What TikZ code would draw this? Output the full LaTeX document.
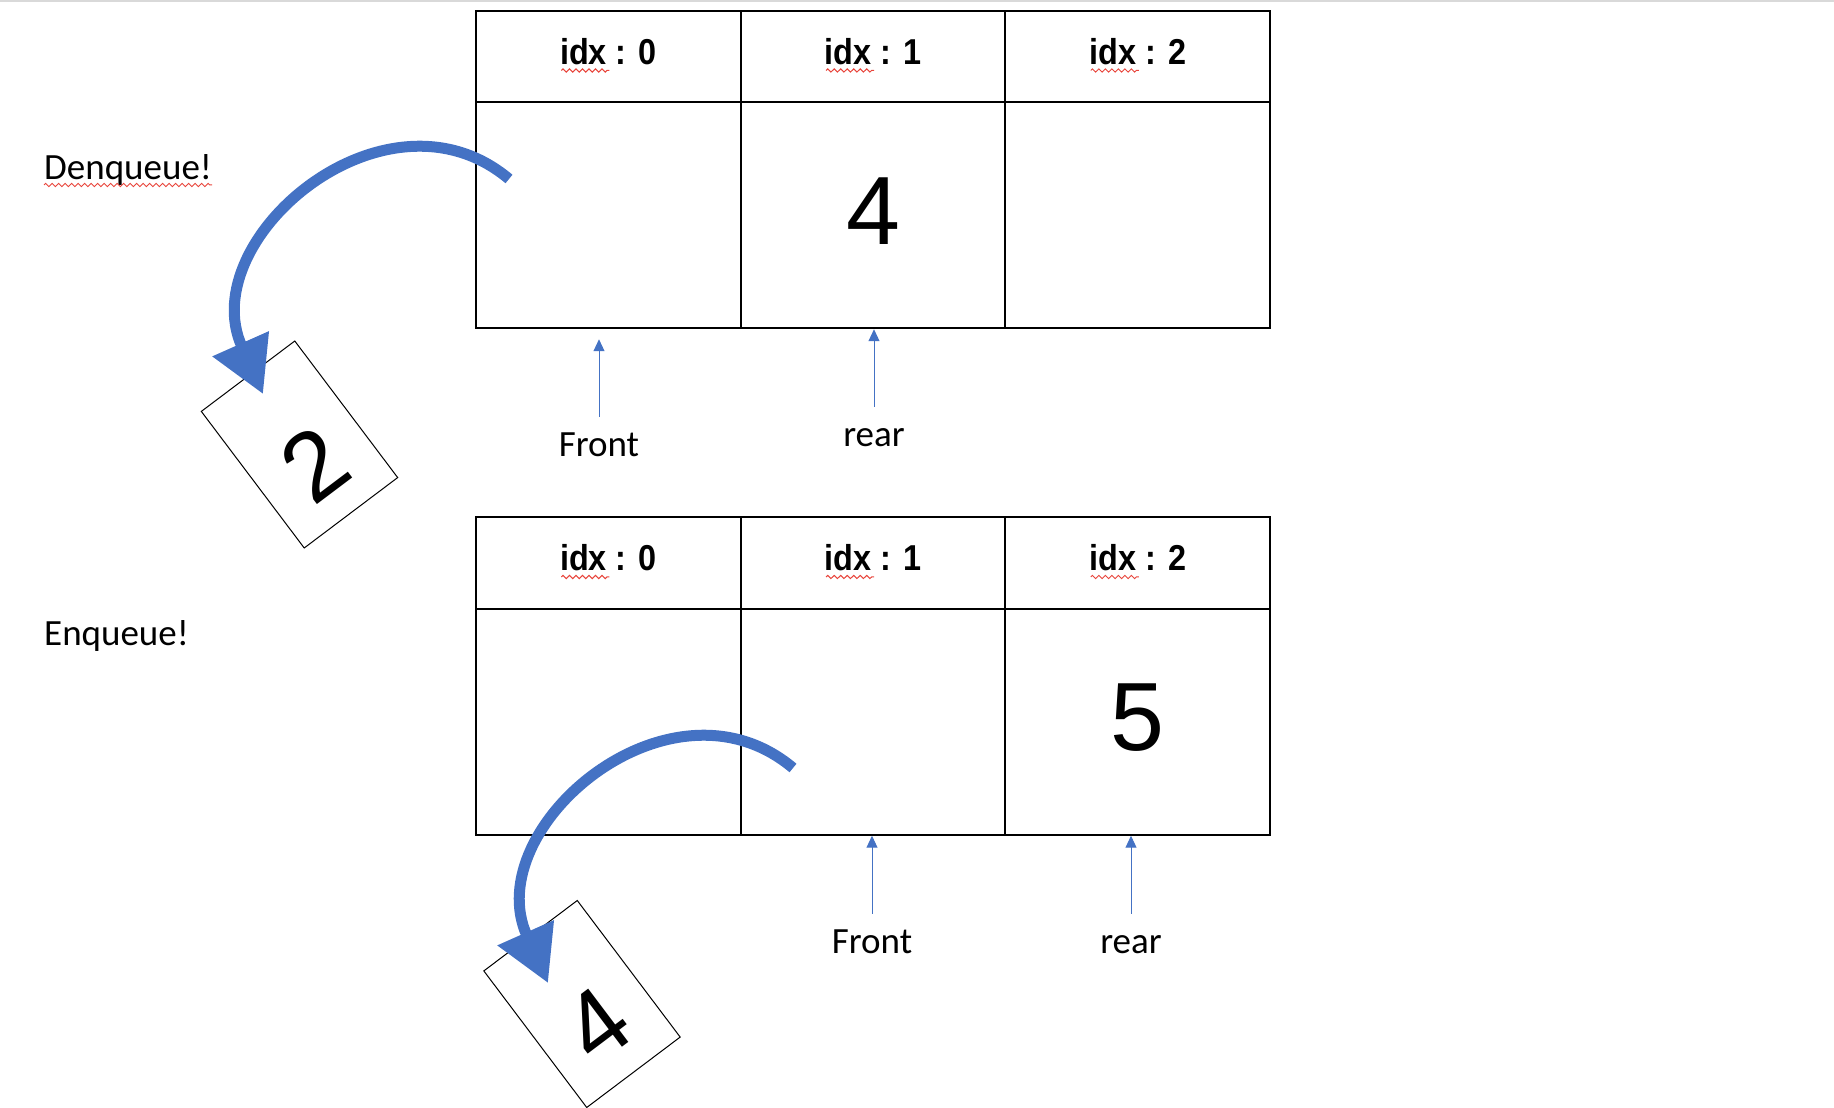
\documentclass[tikz,border=0pt]{standalone}
\usepackage{xcolor}
\usepackage{fontspec}
\setmainfont{Liberation Sans}
\newfontfamily\notefont{Carlito}
\newfontfamily\hdrfont[FakeStretch=0.9]{Liberation Sans}
\usepackage{tikz}
\usetikzlibrary{arrows.meta, positioning, decorations.pathmorphing}
\definecolor{officeblue}{HTML}{4472C4}
\definecolor{spellred}{HTML}{E8453C}

\begin{document}
\begin{tikzpicture}[x=1pt, y=1pt,
  hdr/.style={rectangle, draw, line width=2pt, outer sep=0pt, inner sep=0pt, minimum width=264.7pt, minimum height=91.5pt, text height=26pt, text depth=10pt, font=\hdrfont\bfseries\fontsize{36}{40}\selectfont},
  cell/.style={rectangle, draw, line width=2pt, outer sep=0pt, inner sep=0pt, minimum width=264.7pt, minimum height=226pt, text height=70pt, text depth=12pt, font=\fontsize{97}{100}\selectfont},
  card/.style={rectangle, draw, fill=white, line width=1pt, minimum width=117pt, minimum height=171pt, inner sep=0pt, rotate=37, text height=118pt, text depth=0pt, font=\fontsize{97}{100}\selectfont},
  note/.style={inner sep=0pt, anchor=base west, font=\notefont\fontsize{37}{40}\selectfont},
  lbl/.style={inner sep=0pt, anchor=base, text height=25pt, font=\notefont\fontsize{37}{40}\selectfont},
  ptr/.style={draw=officeblue, line width=1pt, -{Triangle[length=12pt, width=11pt]}, shorten <=15pt},
  bigarrow/.style={draw=officeblue, line width=11pt, -{Triangle[length=55pt, width=59pt]}},
  spell/.style={draw=spellred, line width=1pt, decorate, decoration={zigzag, amplitude=1.6pt, segment length=6.5pt}}
]
  \useasboundingbox (0,0) rectangle (1834,1108);
  \fill[black!15] (0,1106) rectangle (1834,1108);

  % dequeue
  \node[note] (deq) at (44,928) {Denqueue!};
  \node[hdr] (h00) at (608.35,1051.5) {idx : 0};
  \node[hdr, right=0pt of h00] (h01) {idx : 1};
  \node[hdr, right=0pt of h01] (h02) {idx : 2};
  \node[cell, below=0pt of h00] (v00) {};
  \node[cell, below=0pt of h01] (v01) {4};
  \node[cell, below=0pt of h02] (v02) {};
  \node[lbl] (front1) at (599,651) {Front};
  \node[lbl] (rear1) at (874,661) {rear};
  \node[card] (card2) at (299.5,663.5) {2};

  \draw[ptr, shorten >=11pt] (front1.north) -- (front1 |- v00.south);
  \draw[ptr, shorten >=1pt] (rear1.north) -- (rear1 |- v01.south);

  \coordinate (tail1) at (509,929);
  \coordinate (tip1) at (263,714);
  \draw[bigarrow] (tail1) .. controls +(140:160) and +(114:170) .. (tip1);

  % enqueue
  \node[note] (enq) at (44,462) {Enqueue!};
  \node[hdr] (h10) at (608.35,545) {idx : 0};
  \node[hdr, right=0pt of h10] (h11) {idx : 1};
  \node[hdr, right=0pt of h11] (h12) {idx : 2};
  \node[cell, below=0pt of h10] (v10) {};
  \node[cell, below=0pt of h11] (v11) {};
  \node[cell, below=0pt of h12] (v12) {5};
  \node[lbl] (front2) at (872,154) {Front};
  \node[lbl] (rear2) at (1131,154) {rear};
  \node[card] (card4) at (582,104) {4};

  \draw[ptr, shorten >=1pt] (front2.north) -- (front2 |- v11.south);
  \draw[ptr, shorten >=1pt] (rear2.north) -- (rear2 |- v12.south);

  \coordinate (tail2) at (793,340);
  \coordinate (tip2) at (548,125);
  \draw[bigarrow] (tail2) .. controls +(140:160) and +(114:170) .. (tip2);

  % spell check marks
  \draw[spell] ([yshift=-5pt]deq.base west) -- ([yshift=-5pt]deq.base east);
  \draw[spell] ([xshift=-47pt, yshift=-6pt]h00.base) -- ++(48,0);
  \draw[spell] ([xshift=-47pt, yshift=-6pt]h01.base) -- ++(48,0);
  \draw[spell] ([xshift=-47pt, yshift=-6pt]h02.base) -- ++(48,0);
  \draw[spell] ([xshift=-47pt, yshift=-6pt]h10.base) -- ++(48,0);
  \draw[spell] ([xshift=-47pt, yshift=-6pt]h11.base) -- ++(48,0);
  \draw[spell] ([xshift=-47pt, yshift=-6pt]h12.base) -- ++(48,0);
\end{tikzpicture}
\end{document}
